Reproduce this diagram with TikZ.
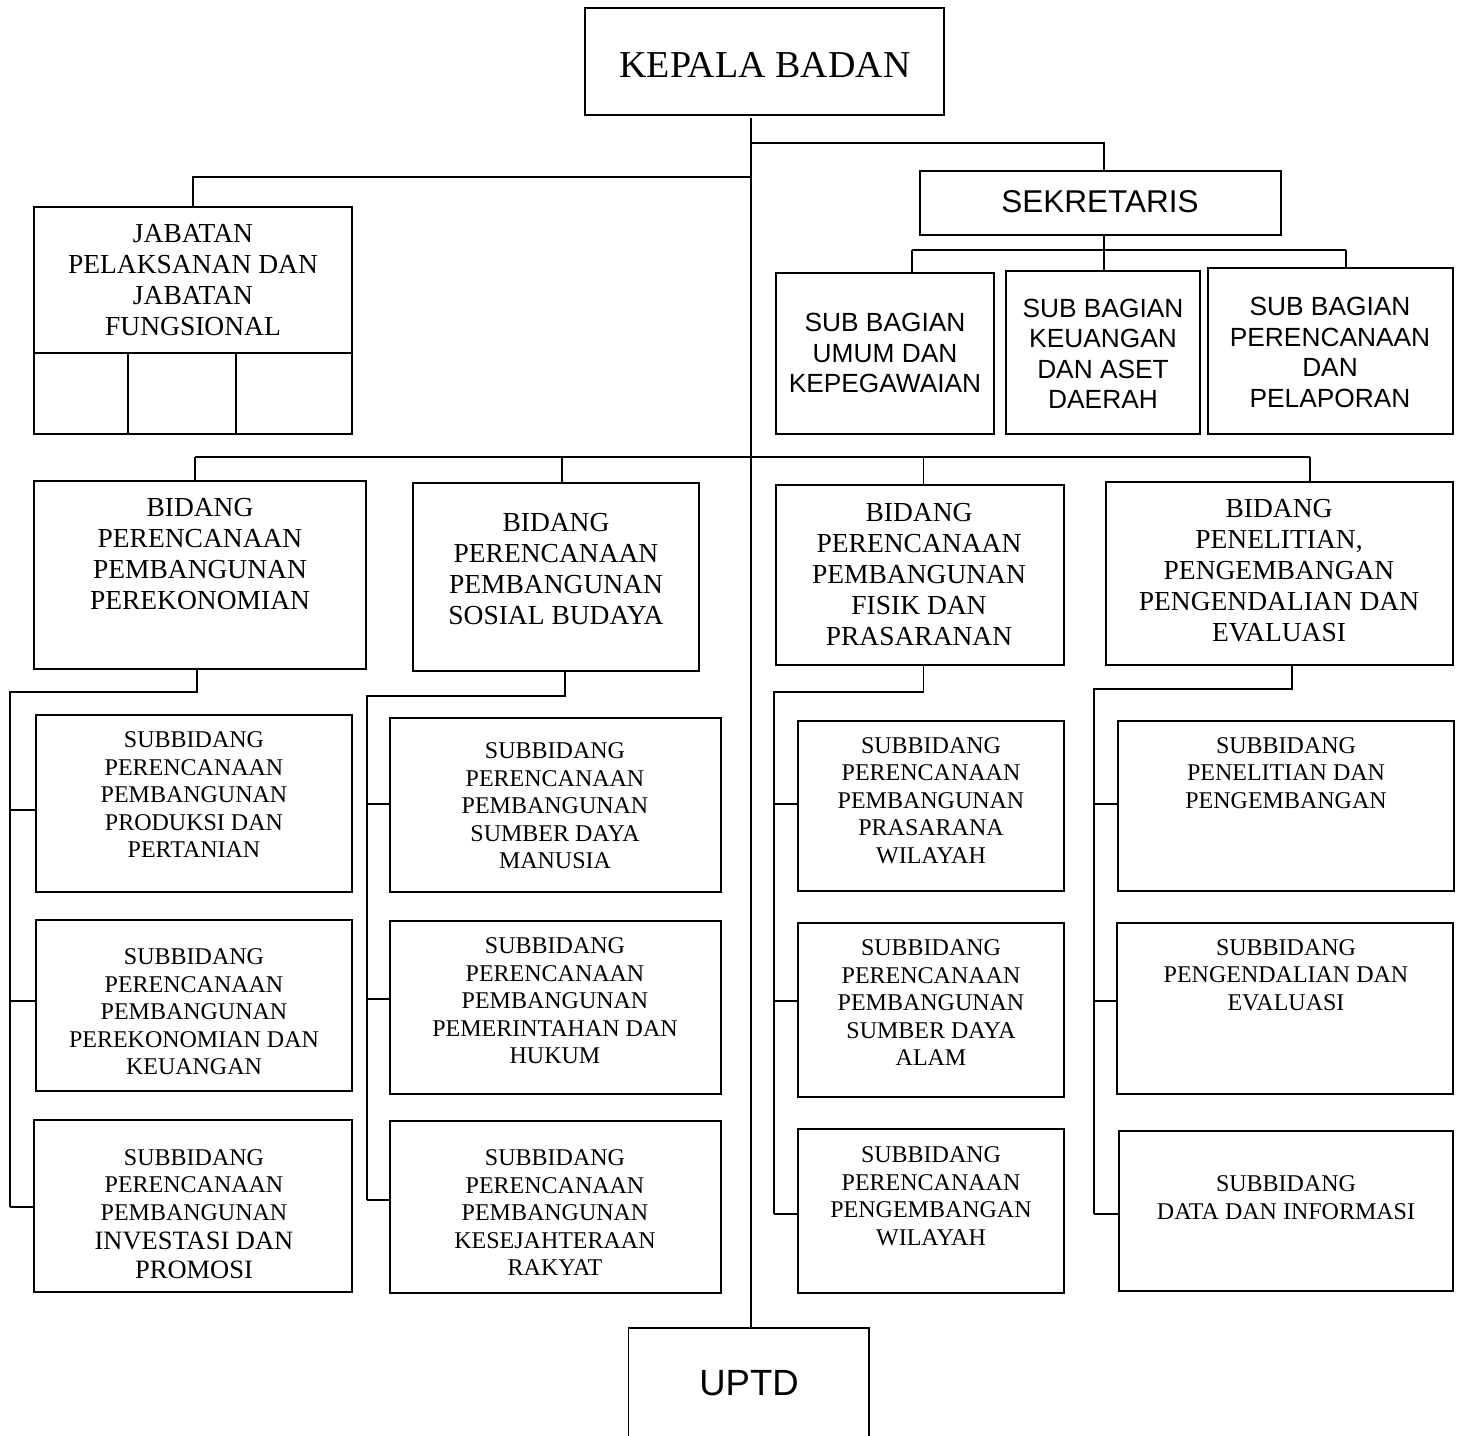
\documentclass[tikz,border=0pt]{standalone}
\usepackage{fontspec}
\setmainfont{Liberation Serif}
\setsansfont{Liberation Sans}
\usetikzlibrary{fit}
\tikzset{
  obox/.style={draw, line width=1.8pt, inner sep=0pt},
  conn/.style={line width=1.6pt},
  serH/.style={align=center, inner sep=0pt, font=\fontsize{38}{44}\selectfont},
  serA/.style={align=center, inner sep=0pt, font=\fontsize{27.5}{31}\selectfont},
  serB/.style={align=center, inner sep=0pt, font=\fontsize{24}{27.5}\selectfont},
  sanH/.style={align=center, inner sep=0pt, font=\sffamily\fontsize{31.5}{34}\selectfont},
  sanA/.style={align=center, inner sep=0pt, font=\sffamily\fontsize{26.3}{30.5}\selectfont},
  sanU/.style={align=center, inner sep=0pt, font=\sffamily\fontsize{36.5}{40}\selectfont},
}
\begin{document}
\begin{tikzpicture}[x=1pt,y=-1pt]
\useasboundingbox (0,0) rectangle (1461,1435);

% ---------- boxes ----------
\node[obox, fit={(585,8) (944,115)}] (kepala) {};
\node[obox, fit={(920,171) (1281,235)}] (sek) {};
\node[obox, fit={(776,273) (994,434)}] (sb1) {};
\node[obox, fit={(1006,271) (1200,434)}] (sb2) {};
\node[obox, fit={(1208,268) (1453,434)}] (sb3) {};
\node[obox, fit={(34,207) (352,353)}] (jab) {};
\node[obox, fit={(34,353) (128,434)}] (jc1) {};
\node[obox, fit={(128,353) (236,434)}] (jc2) {};
\node[obox, fit={(236,353) (352,434)}] (jc3) {};
\node[obox, fit={(34,481) (366,669)}] (b1) {};
\node[obox, fit={(413,483) (699,671)}] (b2) {};
\node[obox, fit={(776,485) (1064,665)}] (b3) {};
\node[obox, fit={(1106,482) (1453,665)}] (b4) {};
\node[obox, fit={(36,715) (352,892)}] (s11) {};
\node[obox, fit={(36,920) (352,1091)}] (s12) {};
\node[obox, fit={(34,1120) (352,1292)}] (s13) {};
\node[obox, fit={(390,718) (721,892)}] (s21) {};
\node[obox, fit={(390,921) (721,1094)}] (s22) {};
\node[obox, fit={(390,1121) (721,1293)}] (s23) {};
\node[obox, fit={(798,721) (1064,891)}] (s31) {};
\node[obox, fit={(798,923) (1064,1097)}] (s32) {};
\node[obox, fit={(798,1129) (1064,1293)}] (s33) {};
\node[obox, fit={(1118,721) (1454,891)}] (s41) {};
\node[obox, fit={(1117,923) (1453,1094)}] (s42) {};
\node[obox, fit={(1119,1131) (1453,1291)}] (s43) {};
\node[obox, fit={(628.5,1328) (869,1465)}] (uptd) {};

% ---------- texts ----------
\node[serH] (kepalaT) at (765,65) {KEPALA BADAN};
\node[sanH] (sekT) at (1100,202) {SEKRETARIS};
\node[sanA] (sb1T) at (885,353) {SUB BAGIAN\\UMUM DAN\\KEPEGAWAIAN};
\node[sanA] (sb2T) at (1103,354) {SUB BAGIAN\\KEUANGAN\\DAN ASET\\DAERAH};
\node[sanA] (sb3T) at (1330,352.5) {SUB BAGIAN\\PERENCANAAN\\DAN\\PELAPORAN};
\node[serA] (jabT) at (193,280) {JABATAN\\PELAKSANAN DAN\\JABATAN\\FUNGSIONAL};
\node[serA] (b1T) at (200,554) {BIDANG\\PERENCANAAN\\PEMBANGUNAN\\PEREKONOMIAN};
\node[serA] (b2T) at (556,569) {BIDANG\\PERENCANAAN\\PEMBANGUNAN\\SOSIAL BUDAYA};
\node[serA] (b3T) at (919,575) {BIDANG\\PERENCANAAN\\PEMBANGUNAN\\FISIK DAN\\PRASARANAN};
\node[serA] (b4T) at (1279,570.5) {BIDANG\\PENELITIAN,\\PENGEMBANGAN\\PENGENDALIAN DAN\\EVALUASI};
\node[serB] (s11T) at (194,795) {SUBBIDANG\\PERENCANAAN\\PEMBANGUNAN\\PRODUKSI DAN\\PERTANIAN};
\node[serB] (s12T) at (194,1012) {SUBBIDANG\\PERENCANAAN\\PEMBANGUNAN\\PEREKONOMIAN DAN\\KEUANGAN};
\node[serB] (s13T) at (194,1214) {SUBBIDANG\\PERENCANAAN\\PEMBANGUNAN\\[1.5pt]{\fontsize{26.5}{30}\selectfont INVESTASI DAN}\\[2pt]{\fontsize{26.5}{30}\selectfont PROMOSI}};
\node[serB] (s21T) at (555,806) {SUBBIDANG\\PERENCANAAN\\PEMBANGUNAN\\SUMBER DAYA\\MANUSIA};
\node[serB] (s22T) at (555,1001) {SUBBIDANG\\PERENCANAAN\\PEMBANGUNAN\\PEMERINTAHAN DAN\\HUKUM};
\node[serB] (s23T) at (555,1213) {SUBBIDANG\\PERENCANAAN\\PEMBANGUNAN\\KESEJAHTERAAN\\RAKYAT};
\node[serB] (s31T) at (931,800.5) {SUBBIDANG\\PERENCANAAN\\PEMBANGUNAN\\PRASARANA\\WILAYAH};
\node[serB] (s32T) at (931,1003) {SUBBIDANG\\PERENCANAAN\\PEMBANGUNAN\\SUMBER DAYA\\ALAM};
\node[serB] (s33T) at (931,1196) {SUBBIDANG\\PERENCANAAN\\PENGEMBANGAN\\WILAYAH};
\node[serB] (s41T) at (1286,773) {SUBBIDANG\\PENELITIAN DAN\\PENGEMBANGAN};
\node[serB] (s42T) at (1286,975) {SUBBIDANG\\PENGENDALIAN DAN\\EVALUASI};
\node[serB] (s43T) at (1286,1197.5) {SUBBIDANG\\DATA DAN INFORMASI};
\node[sanU] (uptdT) at (749,1383) {UPTD};

% ---------- connectors ----------
\coordinate (trunk) at (751,118);
\coordinate (jSek) at (751,143);
\coordinate (jJab) at (751,177);
\coordinate (sekDrop) at (1104,143);
\draw[conn] (trunk) -- (trunk |- uptd.north);
\draw[conn] (jSek) -- (sekDrop) -- (sekDrop |- sek.north);
\draw[conn] (jJab) -| (jab.north);

% sekretaris branch
\coordinate (sbL) at (912,250);
\coordinate (sbM) at (1104,250);
\coordinate (sbR) at (1346,250);
\draw[conn] (sbM |- sek.south) -- (sbM);
\draw[conn] (sbL) -- (sbR);
\draw[conn] (sbL) -- (sbL |- sb1.north);
\draw[conn] (sbM) -- (sbM |- sb2.north);
\draw[conn] (sbR) -- (sbR |- sb3.north);

% bidang bus
\coordinate (bk1) at (195,457);
\coordinate (bk2) at (562,457);
\coordinate (bk3) at (923.5,457);
\coordinate (bk4) at (1310,457);
\draw[conn] (bk1) -- (bk4);
\draw[conn] (bk1) -- (bk1 |- b1.north);
\draw[conn] (bk2) -- (bk2 |- b2.north);
\draw[conn] (bk3) -- (bk3 |- b3.north);
\draw[conn] (bk4) -- (bk4 |- b4.north);

% column 1
\coordinate (c1t) at (197,692);
\coordinate (c1a) at (10,810);
\coordinate (c1b) at (10,1001);
\coordinate (c1c) at (10,1207);
\draw[conn] (c1t |- b1.south) -- (c1t) -| (c1c);
\draw[conn] (c1a) -- (c1a -| s11.west);
\draw[conn] (c1b) -- (c1b -| s12.west);
\draw[conn] (c1c) -- (c1c -| s13.west);

% column 2
\coordinate (c2t) at (565,696);
\coordinate (c2a) at (367,804);
\coordinate (c2b) at (367,999);
\coordinate (c2c) at (367,1200);
\draw[conn] (c2t |- b2.south) -- (c2t) -| (c2c);
\draw[conn] (c2a) -- (c2a -| s21.west);
\draw[conn] (c2b) -- (c2b -| s22.west);
\draw[conn] (c2c) -- (c2c -| s23.west);

% column 3
\coordinate (c3t) at (923.5,692);
\coordinate (c3a) at (774,804);
\coordinate (c3b) at (774,1001);
\coordinate (c3c) at (774,1214);
\draw[conn] (c3t |- b3.south) -- (c3t) -| (c3c);
\draw[conn] (c3a) -- (c3a -| s31.west);
\draw[conn] (c3b) -- (c3b -| s32.west);
\draw[conn] (c3c) -- (c3c -| s33.west);

% column 4
\coordinate (c4t) at (1292,689);
\coordinate (c4a) at (1094,804);
\coordinate (c4b) at (1094,1001);
\coordinate (c4c) at (1094,1214);
\draw[conn] (c4t |- b4.south) -- (c4t) -| (c4c);
\draw[conn] (c4a) -- (c4a -| s41.west);
\draw[conn] (c4b) -- (c4b -| s42.west);
\draw[conn] (c4c) -- (c4c -| s43.west);
\end{tikzpicture}
\end{document}
